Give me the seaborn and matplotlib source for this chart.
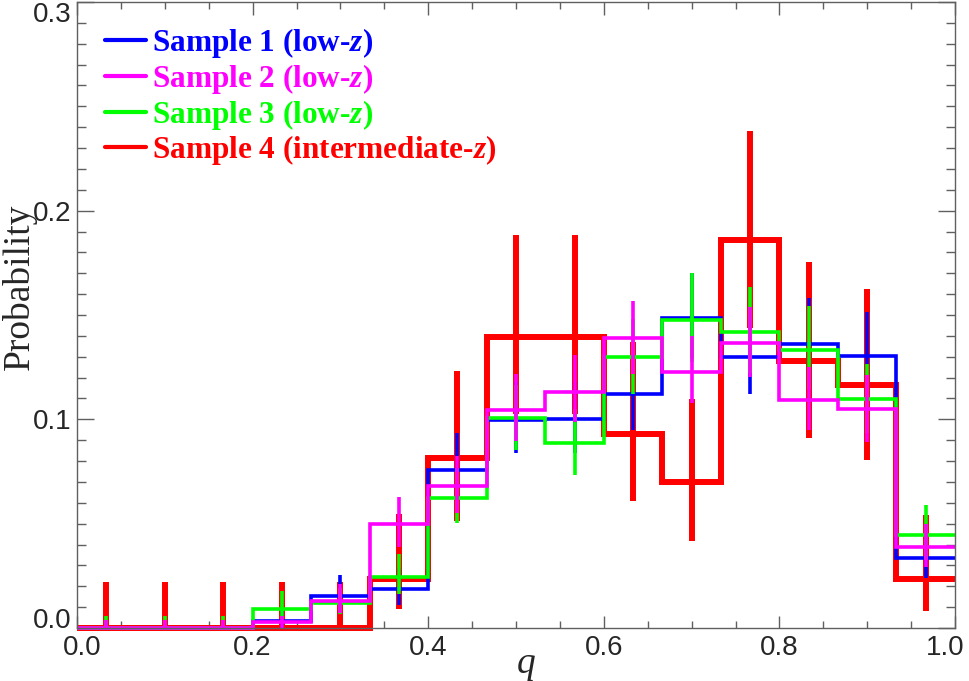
import numpy as np
import pandas as pd
import seaborn as sns
import matplotlib.pyplot as plt
from matplotlib.lines import Line2D
from matplotlib.ticker import MultipleLocator
from matplotlib.transforms import ScaledTranslation

# 15 bins of q between 0 and 1
n_bins = 15
q_edges = np.linspace(0.0, 1.0, n_bins + 1)
q_mid = 0.5 * (q_edges[:-1] + q_edges[1:])

labels = ['Sample 1 (low-$z$)', 'Sample 2 (low-$z$)',
          'Sample 3 (low-$z$)', 'Sample 4 (intermediate-$z$)']
colors = ['#0000ff', '#ff00ff', '#00ff00', '#ff0000']

# probabilities per bin
s1 = [0, 0, 0, 0.0035, 0.0155, 0.0186, 0.0757, 0.0997, 0.1000, 0.1120,
      0.1485, 0.1300, 0.1360, 0.1304, 0.0337]
s1_lo = [0, 0, 0, 0.0035, 0.007, 0.0076, 0.015, 0.016, 0.016, 0.017,
         0.019, 0.018, 0.019, 0.019, 0.0097]
s1_hi = [0.004, 0.004, 0.004, 0.005, 0.010, 0.010, 0.0176, 0.018, 0.018, 0.019,
         0.0218, 0.020, 0.022, 0.021, 0.011]

s2 = [0, 0, 0, 0.0027, 0.0130, 0.0499, 0.0682, 0.1045, 0.1133, 0.1389,
      0.1229, 0.1365, 0.1093, 0.1048, 0.0390]
s2_lo = [0, 0, 0, 0.0027, 0.006, 0.011, 0.013, 0.015, 0.0144, 0.017,
         0.015, 0.016, 0.0144, 0.0155, 0.0096]
s2_hi = [0.0038, 0.0038, 0.0038, 0.003, 0.008, 0.0128, 0.014, 0.017, 0.0177, 0.018,
         0.017, 0.0175, 0.016, 0.0165, 0.011]

s3 = [0, 0, 0, 0.0091, 0.0121, 0.0243, 0.0625, 0.1005, 0.0888, 0.1300,
      0.1477, 0.1420, 0.1333, 0.1096, 0.0446]
s3_lo = [0, 0, 0, 0.005, 0.0055, 0.008, 0.0123, 0.015, 0.0155, 0.018,
         0.020, 0.020, 0.019, 0.016, 0.012]
s3_hi = [0.0058, 0.0058, 0.0058, 0.0086, 0.007, 0.011, 0.014, 0.016, 0.016, 0.018,
         0.0226, 0.0216, 0.021, 0.017, 0.0144]

s4 = [0, 0, 0, 0, 0, 0.0233, 0.0814, 0.1395, 0.1395, 0.0930,
      0.0698, 0.1860, 0.1280, 0.1163, 0.0233]
s4_lo = [0, 0, 0, 0, 0, 0.0144, 0.030, 0.037, 0.037, 0.032,
         0.028, 0.042, 0.037, 0.0356, 0.015]
s4_hi = [0.0222, 0.0222, 0.0222, 0.0222, 0.0222, 0.0315, 0.042, 0.049, 0.049, 0.044,
         0.040, 0.052, 0.0475, 0.046, 0.031]

sns.set_style('ticks')
plt.rcParams['font.family'] = ['Liberation Sans', 'DejaVu Sans']
plt.rcParams['mathtext.fontset'] = 'custom'
plt.rcParams['mathtext.it'] = 'Liberation Serif:italic:bold'
plt.rcParams['mathtext.rm'] = 'Liberation Serif:bold'

fig = plt.figure(figsize=(9.69, 6.81), dpi=100)
ax = fig.add_axes([77 / 969, 1 - 628 / 681, 878 / 969, 626 / 681])

# red goes underneath, magenta on top
series = [(s4, s4_lo, s4_hi, colors[3], 4.3),
          (s1, s1_lo, s1_hi, colors[0], 2.6),
          (s3, s3_lo, s3_hi, colors[2], 2.6),
          (s2, s2_lo, s2_hi, colors[1], 2.6)]
for vals, lo, hi, c, lw in series:
  df = pd.DataFrame({'q': q_mid, 'p': vals})
  sns.histplot(data=df, x='q', weights='p', bins=n_bins, binrange=(0, 1),
               element='step', fill=False, color=c, linewidth=lw,
               solid_joinstyle='miter', solid_capstyle='butt', ax=ax)
  ax.errorbar(q_mid, vals, yerr=[lo, hi], fmt='none', ecolor=c,
              elinewidth=lw, capsize=0)

for ln in ax.lines:
  ln.set_clip_on(False)

ax.set_xlim(0, 1)
ax.set_ylim(0, 0.3)
ax.set_xticks(np.arange(0, 1.01, 0.2))
ax.set_xticklabels([f'{v:.1f}' for v in np.arange(0, 1.01, 0.2)])
ax.set_yticks([0.0, 0.1, 0.2, 0.3])
ax.set_yticklabels(['0.0', '0.1', '0.2', '0.3'])
ax.xaxis.set_minor_locator(MultipleLocator(0.05))
ax.yaxis.set_minor_locator(MultipleLocator(0.01))
ax.tick_params(which='both', direction='in', top=True, right=True,
               color='#606060', width=1, labelsize=20)
ax.tick_params(axis='y', which='major', length=12, pad=4)
ax.tick_params(axis='y', which='minor', length=6.5)
ax.tick_params(axis='x', which='major', length=9, pad=5)
ax.tick_params(axis='x', which='minor', length=5)
for sp in ax.spines.values():
  sp.set_color('#606060')
  sp.set_linewidth(1)

# keep the end labels inside, as in the original
ylabs = ax.get_yticklabels()
ylabs[0].set_verticalalignment('baseline')
ylabs[-1].set_verticalalignment('top')
xlabs = ax.get_xticklabels()
xlabs[0].set_transform(xlabs[0].get_transform()
                       + ScaledTranslation(5 / 100, 0, fig.dpi_scale_trans))
xlabs[-1].set_transform(xlabs[-1].get_transform()
                        + ScaledTranslation(-10 / 100, 0, fig.dpi_scale_trans))

ax.set_xlabel('q', family='Liberation Serif', style='italic', fontsize=27)
ax.xaxis.set_label_coords(0.512, -0.03)
ax.set_ylabel('Probability', family='Liberation Serif', fontsize=27)
ax.yaxis.set_label_coords(-0.066, 0.545)
ax.yaxis.label.set_verticalalignment('center')

handles = [Line2D([], [], color=c, lw=3) for c in colors]
leg = ax.legend(handles, labels, loc='upper left', bbox_to_anchor=(0.032, 0.962),
                frameon=False, borderpad=0, borderaxespad=0, handlelength=1.3,
                handletextpad=0.2, labelspacing=0.06, labelcolor=colors,
                prop={'family': 'Liberation Serif', 'weight': 'bold', 'size': 22.5})

fig.savefig('out.png', dpi=100)
